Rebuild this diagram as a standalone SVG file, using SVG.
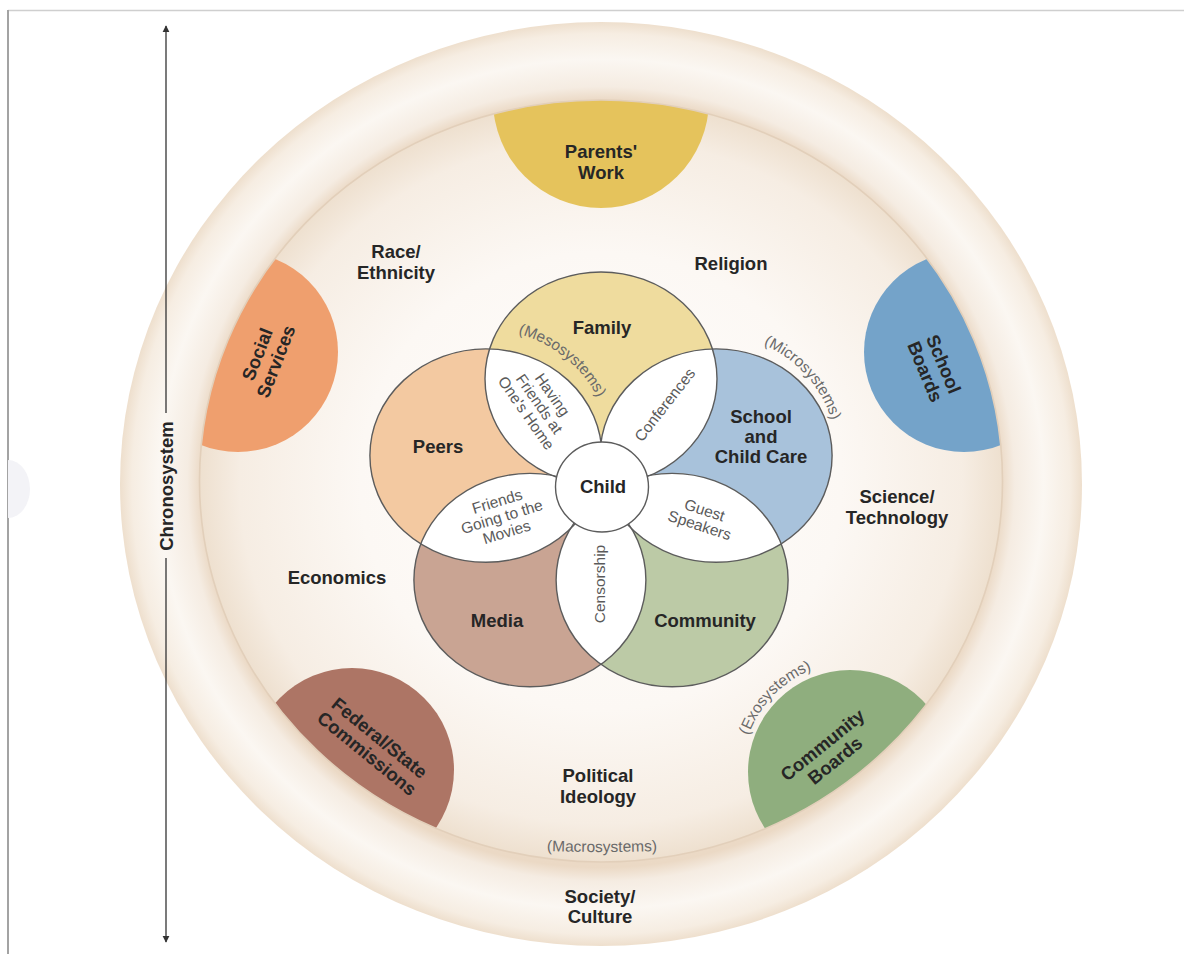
<svg xmlns="http://www.w3.org/2000/svg" width="1184" height="954" viewBox="0 0 1184 954">
<defs>
<style>
.lbl{font-family:"Liberation Sans",Arial,sans-serif;font-weight:bold;font-size:18.5px;fill:#262626;text-anchor:middle}
.lens{font-family:"Liberation Sans",Arial,sans-serif;font-size:15.5px;fill:#5a5a5a;text-anchor:middle}
.par{font-family:"Liberation Sans",Arial,sans-serif;font-size:15.5px;fill:#6a6a6a;text-anchor:middle}
.ol{fill:none;stroke:#5c5c5c;stroke-width:1.4}
</style>
<radialGradient id="gOuter" cx="0.5" cy="0.5" r="0.5">
<stop offset="0" stop-color="#f6ede3"/>
<stop offset="0.83" stop-color="#ebd9c5"/>
<stop offset="0.86" stop-color="#f5ece2"/>
<stop offset="0.92" stop-color="#fbf7f2"/>
<stop offset="0.975" stop-color="#f6ede2"/>
<stop offset="1" stop-color="#eedfcd"/>
</radialGradient>
<radialGradient id="gInner" cx="0.5" cy="0.5" r="0.5">
<stop offset="0" stop-color="#fffefd"/>
<stop offset="0.6" stop-color="#fcf8f4"/>
<stop offset="0.9" stop-color="#f6ede3"/>
<stop offset="1" stop-color="#eee0cf"/>
</radialGradient>
<clipPath id="clipInner"><ellipse cx="601" cy="481" rx="401.5" ry="381"/></clipPath>
<clipPath id="cF"><circle cx="0" cy="-121" r="116"/></clipPath>
<clipPath id="cS"><circle cx="115.1" cy="-37.4" r="116"/></clipPath>
<clipPath id="cC"><circle cx="71.1" cy="97.9" r="116"/></clipPath>
<clipPath id="cM"><circle cx="-71.1" cy="97.9" r="116"/></clipPath>
<clipPath id="cP"><circle cx="-115.1" cy="-37.4" r="116"/></clipPath>
<marker id="arr" viewBox="0 0 10 10" refX="9" refY="5" markerWidth="7" markerHeight="9" markerUnits="userSpaceOnUse" orient="auto">
<path d="M0,0 L10,5 L0,10 z" fill="#333"/>
</marker>
<path id="pMicro" d="M737,336.8 A121,121 0 0 1 836.7,447.6"/>
<path id="pMeso" d="M485.9,329.6 A126,126 0 0 1 608.7,428.2"/>
<path id="pExo" d="M743.7,752.9 A111,111 0 0 1 829.1,664.4"/>
<path id="pMacro" d="M495,848 Q602,856 709,848"/>
</defs>

<rect x="0" y="0" width="1184" height="954" fill="#ffffff"/>
<line x1="8" y1="10.5" x2="1184" y2="10.5" stroke="#cfcfcf" stroke-width="1.5"/>
<line x1="8" y1="10" x2="8" y2="954" stroke="#a3a3a3" stroke-width="2"/>
<path d="M8,460 A22,29 0 0 1 8,518 Z" fill="#f3f3f7"/>

<g id="society-culture">
<ellipse cx="601" cy="484" rx="481" ry="462" fill="url(#gOuter)"/>
<text class="lbl" x="600" y="903">Society/</text>
<text class="lbl" x="600" y="923">Culture</text>
</g>

<g id="macrosystem">
<ellipse cx="601" cy="481" rx="401.5" ry="381" fill="url(#gInner)"/>
<text class="par"><textPath href="#pMacro" startOffset="50%">(Macrosystems)</textPath></text>
</g>

<g id="parents-work" clip-path="url(#clipInner)">
<circle cx="601" cy="100" r="108" fill="#e5c35c"/>
</g>
<g id="social-services" clip-path="url(#clipInner)">
<circle cx="238" cy="352" r="100" fill="#ef9f6e"/>
</g>
<g id="school-boards" clip-path="url(#clipInner)">
<circle cx="964" cy="352" r="100" fill="#74a3c9"/>
</g>
<g id="federal-state" clip-path="url(#clipInner)">
<circle cx="352" cy="770" r="102" fill="#ad7565"/>
</g>
<g id="community-boards" clip-path="url(#clipInner)">
<circle cx="850" cy="772" r="102" fill="#8fae7e"/>
</g>
<ellipse cx="601" cy="481" rx="401.5" ry="381" fill="none" stroke="#e2cfba" stroke-width="1.6"/>

<g id="exo-labels">
<text class="lbl" x="601" y="158">Parents'</text>
<text class="lbl" x="601" y="179">Work</text>
<text class="lbl" transform="translate(267,358) rotate(-68.7)"><tspan x="0" y="-4">Social</tspan><tspan x="0" y="16">Services</tspan></text>
<text class="lbl" transform="translate(934,368) rotate(67.4)"><tspan x="0" y="-4">School</tspan><tspan x="0" y="16">Boards</tspan></text>
<text class="lbl" transform="translate(373,746) rotate(39)"><tspan x="0" y="-4">Federal/State</tspan><tspan x="0" y="16">Commissions</tspan></text>
<text class="lbl" transform="translate(829,753) rotate(-39)"><tspan x="0" y="-4">Community</tspan><tspan x="0" y="16">Boards</tspan></text>
<text class="par"><textPath href="#pExo" startOffset="50%">(Exosystems)</textPath></text>
</g>

<g id="macro-labels">
<text class="lbl" x="396" y="258">Race/</text>
<text class="lbl" x="396" y="279">Ethnicity</text>
<text class="lbl" x="731" y="270">Religion</text>
<text class="lbl" x="897" y="503">Science/</text>
<text class="lbl" x="897" y="524">Technology</text>
<text class="lbl" x="337" y="584">Economics</text>
<text class="lbl" x="598" y="782">Political</text>
<text class="lbl" x="598" y="803">Ideology</text>
</g>

<g id="microsystems" transform="translate(601,490) scale(1,0.92)">
<g id="family"><circle cx="0" cy="-121" r="116" fill="#efdc9e"/></g>
<g id="school-child-care"><circle cx="115.1" cy="-37.4" r="116" fill="#a8c2db"/></g>
<g id="community"><circle cx="71.1" cy="97.9" r="116" fill="#bccaa6"/></g>
<g id="media"><circle cx="-71.1" cy="97.9" r="116" fill="#c9a493"/></g>
<g id="peers"><circle cx="-115.1" cy="-37.4" r="116" fill="#f3c9a1"/></g>
<g id="mesosystems" fill="#ffffff">
<circle cx="115.1" cy="-37.4" r="116" clip-path="url(#cF)"/>
<circle cx="71.1" cy="97.9" r="116" clip-path="url(#cS)"/>
<circle cx="-71.1" cy="97.9" r="116" clip-path="url(#cC)"/>
<circle cx="-115.1" cy="-37.4" r="116" clip-path="url(#cM)"/>
<circle cx="0" cy="-121" r="116" clip-path="url(#cP)"/>
</g>
<g id="outlines">
<circle class="ol" cx="0" cy="-121" r="116" vector-effect="non-scaling-stroke"/>
<circle class="ol" cx="115.1" cy="-37.4" r="116" vector-effect="non-scaling-stroke"/>
<circle class="ol" cx="71.1" cy="97.9" r="116" vector-effect="non-scaling-stroke"/>
<circle class="ol" cx="-71.1" cy="97.9" r="116" vector-effect="non-scaling-stroke"/>
<circle class="ol" cx="-115.1" cy="-37.4" r="116" vector-effect="non-scaling-stroke"/>
</g>
</g>

<g id="child">
<ellipse cx="602" cy="487" rx="46.5" ry="45" fill="#ffffff" stroke="#5c5c5c" stroke-width="1.4"/>
<text class="lbl" x="603" y="493">Child</text>
</g>

<g id="micro-labels">
<text class="lbl" x="602" y="334">Family</text>
<text class="lbl" x="438" y="453">Peers</text>
<text class="lbl" x="761" y="423">School</text>
<text class="lbl" x="761" y="443">and</text>
<text class="lbl" x="761" y="463">Child Care</text>
<text class="lbl" x="497" y="627">Media</text>
<text class="lbl" x="705" y="627">Community</text>
<text class="par"><textPath href="#pMicro" startOffset="50%">(Microsystems)</textPath></text>
<text class="par"><textPath href="#pMeso" startOffset="50%">(Mesosystems)</textPath></text>
</g>

<g id="meso-labels">
<text class="lens" transform="translate(539,404) rotate(55)"><tspan x="0" y="-11">Having</tspan><tspan x="0" y="5">Friends at</tspan><tspan x="0" y="21">One's Home</tspan></text>
<text class="lens" transform="translate(665,405) rotate(-52)" x="0" y="5">Conferences</text>
<text class="lens" transform="translate(502,517) rotate(-17)"><tspan x="0" y="-11">Friends</tspan><tspan x="0" y="5">Going to the</tspan><tspan x="0" y="21">Movies</tspan></text>
<text class="lens" transform="translate(702,518) rotate(18)"><tspan x="0" y="-3">Guest</tspan><tspan x="0" y="13">Speakers</tspan></text>
<text class="lens" transform="translate(600,584) rotate(-90)" x="0" y="5">Censorship</text>
</g>

<g id="connectors">
<line x1="166" y1="413" x2="166" y2="26" stroke="#333" stroke-width="1.3" marker-end="url(#arr)"/>
<line x1="166" y1="558" x2="166" y2="942" stroke="#333" stroke-width="1.3" marker-end="url(#arr)"/>
</g>
<g id="chronosystem">
<text class="lbl" transform="translate(166,486) rotate(-90)" x="0" y="6.5">Chronosystem</text>
</g>
</svg>
